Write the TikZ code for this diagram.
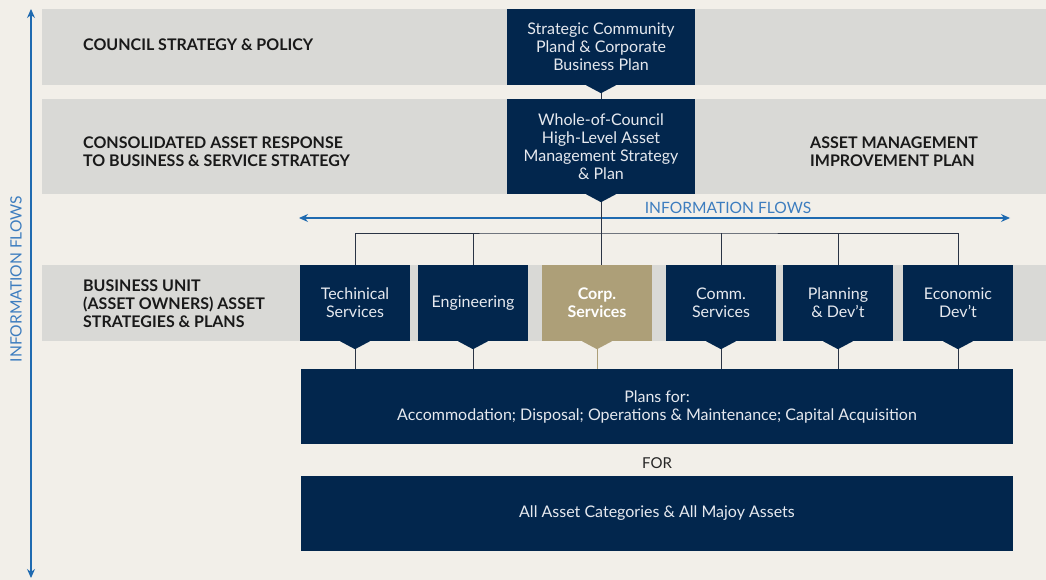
\documentclass[tikz,border=0pt]{standalone}
\usepackage{fontspec}
\setmainfont{Lato}
\usetikzlibrary{arrows.meta,calc}
\definecolor{bgc}{HTML}{F2EFE9}
\definecolor{band}{HTML}{D9D9D6}
\definecolor{navy}{HTML}{02264D}
\definecolor{tan}{HTML}{AD9F78}
\definecolor{flowblue}{HTML}{1F6AB0}
\definecolor{labblue}{HTML}{3D7DBF}
\definecolor{conn}{HTML}{2B3445}
\definecolor{boxtxt}{HTML}{E6E9EF}
\tikzset{
  bandlabel/.style={anchor=west,align=left,inner sep=0pt,text=black!90,font=\fontsize{16}{18}\selectfont\bfseries},
  darkbox/.style={fill=navy,text=boxtxt,align=center,inner sep=0pt,font=\fontsize{16}{18}\selectfont},
  unitbox/.style={darkbox,minimum width=110pt,minimum height=76pt},
  corpbox/.style={unitbox,fill=tan,text=white,font=\fontsize{16}{18}\selectfont\bfseries},
  connline/.style={draw=conn,line width=0.9pt},
  flowarrow/.style={draw=flowblue,line width=1.1pt},
  flowlabel/.style={text=labblue,inner sep=0pt,font=\fontsize{15.6}{17}\selectfont},
}
\newcommand{\ptr}[2]{\fill[#2] ($(#1.south)+(-15,0)$) -- ($(#1.south)+(15,0)$) -- ($(#1.south)+(0,8)$) -- cycle;}
\begin{document}
\begin{tikzpicture}[x=1pt,y=-1pt]
\useasboundingbox (0,0) rectangle (1046,580);
\fill[bgc] (0,0) rectangle (1046,580);
% bands
\fill[band] (42,9) rectangle (1046,85);
\fill[band] (42,99) rectangle (1046,194);
\fill[band] (42,265) rectangle (1046,341);
% band labels
\node[bandlabel] (l1) at (83,45) {COUNCIL STRATEGY \& POLICY};
\node[bandlabel] (l2) at (83,152) {CONSOLIDATED ASSET RESPONSE\\TO BUSINESS \& SERVICE STRATEGY};
\node[bandlabel] (l3) at (810,152) {ASSET MANAGEMENT\\IMPROVEMENT PLAN};
\node[bandlabel] (l4) at (83,304) {BUSINESS UNIT\\(ASSET OWNERS) ASSET\\STRATEGIES \& PLANS};
% vertical info flow
\coordinate (vtop) at (31,9);
\coordinate (vbot) at (31,578);
\draw[flowarrow,{Stealth[length=9pt,width=8pt]}-{Stealth[length=9pt,width=8pt]}] (vtop) -- (vbot);
\node[flowlabel,rotate=90] (vlab) at (16,279) {INFORMATION FLOWS};
% top boxes
\node[darkbox,minimum width=188pt,minimum height=76pt] (top) at (601,47) {Strategic Community\\Pland \& Corporate\\Business Plan};
\node[darkbox,minimum width=188pt,minimum height=95pt] (mid) at (601,146.5) {Whole-of-Council\\High-Level Asset\\Management Strategy\\\& Plan};
% horizontal info flow
\coordinate (hl) at (299,218);
\coordinate (hr) at (1010,218);
\draw[flowarrow,{Stealth[length=9pt,width=8pt]}-{Stealth[length=9pt,width=8pt]}] (hl) -- (hr);
\node[flowlabel] (hlab) at (728,208) {INFORMATION FLOWS};
% unit boxes
\node[unitbox] (tech) at (355,303) {Techinical\\Services};
\node[unitbox] (eng) at (473,303) {Engineering};
\node[corpbox] (corp) at (597,303) {Corp.\\Services};
\node[unitbox] (comm) at (721,303) {Comm.\\Services};
\node[unitbox] (plan) at (838,303) {Planning\\\& Dev't};
\node[unitbox] (econ) at (958,303) {Economic\\Dev't};
% bottom boxes
\node[darkbox,minimum width=712pt,minimum height=75pt] (plans) at (657,406.5) {Plans for:\\Accommodation; Disposal; Operations \& Maintenance; Capital Acquisition};
\node[text=black!85,inner sep=0pt,font=\fontsize{15}{16}\selectfont] (for) at (657,463) {FOR};
\node[darkbox,minimum width=712pt,minimum height=75pt] (all) at (657,513.5) {All Asset Categories \& All Majoy Assets};
% connectors
\coordinate (bus) at (601,233);
\draw[connline] (top.south) -- (mid.north);
\draw[connline] (mid.south) -- (mid.south |- corp.north);
\draw[connline] (tech.north) |- (bus) -| (econ.north);
\draw[connline] (eng.north) -- (eng.north |- bus);
\draw[connline] (comm.north) -- (comm.north |- bus);
\draw[connline] (plan.north) -- (plan.north |- bus);
\foreach \b in {tech,eng,comm,plan,econ}{
  \draw[connline] (\b.south) -- (\b.south |- plans.north);
}
\draw[draw=tan,line width=0.9pt] (corp.south) -- (corp.south |- plans.north);
% pointers
\ptr{top}{navy}
\ptr{mid}{navy}
\ptr{tech}{navy}
\ptr{eng}{navy}
\ptr{corp}{tan}
\ptr{comm}{navy}
\ptr{plan}{navy}
\ptr{econ}{navy}
\end{tikzpicture}
\end{document}
